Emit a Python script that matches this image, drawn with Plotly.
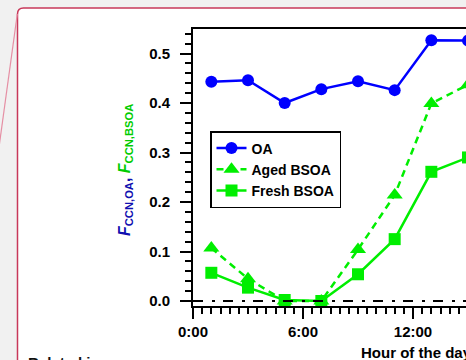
import plotly.graph_objects as go

# ---- data ----
hours = [1, 3, 5, 7, 9, 11, 13, 15]
oa = [0.443, 0.446, 0.400, 0.428, 0.444, 0.426, 0.527, 0.526]
aged_bsoa = [0.107, 0.045, 0.0, 0.0, 0.104, 0.214, 0.399, 0.437]
fresh_bsoa = [0.057, 0.027, 0.002, 0.0, 0.054, 0.125, 0.261, 0.290]
x_tickvals = [0, 6, 12]
x_ticktext = ["0:00", "6:00", "12:00"]
y_tickvals = [0.0, 0.1, 0.2, 0.3, 0.4, 0.5]
y_ticktext = ["0.0", "0.1", "0.2", "0.3", "0.4", "0.5"]

W, H = 466, 360
L, R, T, B = 193, 0, 29, 54
PW, PH = W - L - R, H - T - B


def fx(px):
    return (px - L) / PW


def fy(py):
    return (H - B - py) / PH


BLUE = "#0000ff"
GREEN = "#00ee00"
FONT = "Arial, Liberation Sans, sans-serif"

fig = go.Figure()
fig.add_trace(go.Scatter(x=hours, y=oa, name="OA", mode="lines+markers",
                         line=dict(color=BLUE, width=2.5),
                         marker=dict(symbol="circle", size=12, color=BLUE)))
fig.add_trace(go.Scatter(x=hours, y=aged_bsoa, name="Aged BSOA", mode="lines+markers",
                         line=dict(color=GREEN, width=2.5, dash="7px,5px"),
                         marker=dict(symbol="triangle-up", size=14, color=GREEN)))
fig.add_trace(go.Scatter(x=hours, y=fresh_bsoa, name="Fresh BSOA", mode="lines+markers",
                         line=dict(color=GREEN, width=2.5),
                         marker=dict(symbol="square", size=12, color=GREEN)))
# zero reference line (dash-dot)
fig.add_trace(go.Scatter(x=[0, 24], y=[0, 0], mode="lines", showlegend=False,
                         hoverinfo="skip",
                         line=dict(color="black", width=1.8, dash="10px,9px,3px,8px")))

shapes = []
# card with rounded top-left corner
cx, cy, r = 17.5, 8, 6
path = (f"M {fx(cx)},{fy(H + 20)} L {fx(cx)},{fy(cy + r)} "
        f"Q {fx(cx)},{fy(cy)} {fx(cx + r)},{fy(cy)} L {fx(W + 20)},{fy(cy)} "
        f"L {fx(W + 20)},{fy(H + 20)} Z")
shapes.append(dict(type="path", xref="paper", yref="paper", path=path,
                   fillcolor="white", line=dict(color="#c8385a", width=1.5),
                   layer="below"))
# slanted thin line on left
shapes.append(dict(type="line", xref="paper", yref="paper",
                   x0=fx(17.3), y0=fy(14), x1=fx(-2), y1=fy(154.5),
                   line=dict(color="#e58ea3", width=1.2), layer="below"))

ytitle = ('<span style="color:#1010b0"><i>F</i><sub>CCN,OA</sub>, </span>'
          '<span style="color:#00cc00"><i>F</i><sub>CCN,BSOA</sub></span>')

annotations = [
    dict(text=ytitle, xref="paper", yref="paper", x=fx(125), y=fy(170),
         textangle=-90, showarrow=False, xanchor="center", yanchor="middle",
         font=dict(family=FONT, size=16, weight="bold")),
    dict(text="Hour of the day", xref="paper", yref="paper", x=fx(359), y=fy(342),
         showarrow=False, xanchor="left", yanchor="top",
         font=dict(family=FONT, size=15, weight="bold", color="black")),
    dict(text="Related images", xref="paper", yref="paper", x=fx(26), y=fy(352),
         showarrow=False, xanchor="left", yanchor="top",
         font=dict(family=FONT, size=15, weight="bold", color="#111111")),
]

fig.update_layout(
    width=W, height=H,
    margin=dict(l=L, r=R, t=T, b=B, pad=0),
    paper_bgcolor="#f1f1f1",
    plot_bgcolor="white",
    font=dict(family=FONT, color="black"),
    shapes=shapes,
    annotations=annotations,
    showlegend=True,
    legend=dict(x=fx(210), y=fy(131), xanchor="left", yanchor="top",
                bgcolor="white", bordercolor="black", borderwidth=1.5,
                font=dict(family=FONT, size=14, weight="bold", color="black"),
                itemwidth=30, tracegroupgap=0),
    xaxis=dict(range=[0, 14.89], tickmode="array", tickvals=x_tickvals,
               ticktext=x_ticktext, ticks="outside", ticklen=11, tickwidth=1.5,
               tickcolor="black", showline=True, linecolor="black", linewidth=2,
               mirror=True, showgrid=False, zeroline=False,
               tickfont=dict(family=FONT, size=15, weight="bold", color="black"),
               ticklabelstandoff=0,
               minor=dict(tickmode="linear", tick0=0, dtick=0.5, ticks="outside",
                          ticklen=6, tickwidth=1.5, tickcolor="black", showgrid=False)),
    yaxis=dict(range=[-0.0101, 0.5495], tickmode="array", tickvals=y_tickvals,
               ticktext=y_ticktext, ticks="outside", ticklen=11, tickwidth=1.5,
               tickcolor="black", showline=True, linecolor="black", linewidth=2,
               mirror=False, showgrid=False, zeroline=False,
               tickfont=dict(family=FONT, size=15, weight="bold", color="black"),
               ticklabelstandoff=7,
               minor=dict(tickmode="linear", tick0=0, dtick=0.02, ticks="outside",
                          ticklen=6, tickwidth=1.5, tickcolor="black", showgrid=False)),
)

fig.write_html("out.html")
